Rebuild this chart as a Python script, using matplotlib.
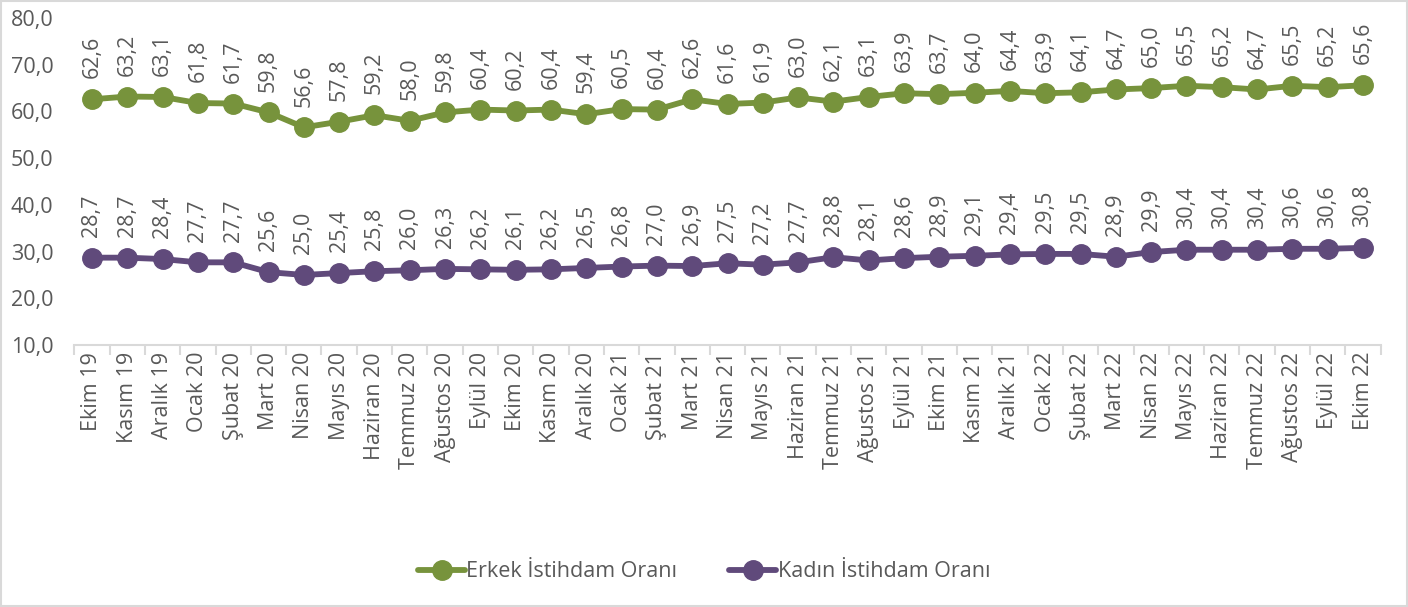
import matplotlib
matplotlib.use("Agg")
import matplotlib.pyplot as plt
from matplotlib.patches import Rectangle
from matplotlib.ticker import FixedLocator

months = ["Ekim 19", "Kasım 19", "Aralık 19", "Ocak 20", "Şubat 20", "Mart 20", "Nisan 20",
          "Mayıs 20", "Haziran 20", "Temmuz 20", "Ağustos 20", "Eylül 20", "Ekim 20", "Kasım 20",
          "Aralık 20", "Ocak 21", "Şubat 21", "Mart 21", "Nisan 21", "Mayıs 21", "Haziran 21",
          "Temmuz 21", "Ağustos 21", "Eylül 21", "Ekim 21", "Kasım 21", "Aralık 21", "Ocak 22",
          "Şubat 22", "Mart 22", "Nisan 22", "Mayıs 22", "Haziran 22", "Temmuz 22", "Ağustos 22",
          "Eylül 22", "Ekim 22"]
erkek = [62.6, 63.2, 63.1, 61.8, 61.7, 59.8, 56.6, 57.8, 59.2, 58.0, 59.8, 60.4, 60.2, 60.4,
         59.4, 60.5, 60.4, 62.6, 61.6, 61.9, 63.0, 62.1, 63.1, 63.9, 63.7, 64.0, 64.4, 63.9,
         64.1, 64.7, 65.0, 65.5, 65.2, 64.7, 65.5, 65.2, 65.6]
kadin = [28.7, 28.7, 28.4, 27.7, 27.7, 25.6, 25.0, 25.4, 25.8, 26.0, 26.3, 26.2, 26.1, 26.2,
         26.5, 26.8, 27.0, 26.9, 27.5, 27.2, 27.7, 28.8, 28.1, 28.6, 28.9, 29.1, 29.4, 29.5,
         29.5, 28.9, 29.9, 30.4, 30.4, 30.4, 30.6, 30.6, 30.8]
series_names = ["Erkek İstihdam Oranı", "Kadın İstihdam Oranı"]
yticks = [10, 20, 30, 40, 50, 60, 70, 80]

plt.rcParams['font.family'] = ['Open Sans', 'DejaVu Sans']
TXT = '#595959'
GRID = '#D9D9D9'
FS = 15.5

fig = plt.figure(figsize=(14.08, 6.07), dpi=100)
ax = fig.add_axes([0.0528, 0.4316, 0.9278, 0.5387])
fig.patches.append(Rectangle((0.001, 0.001), 0.998, 0.997, transform=fig.transFigure,
                             fill=False, edgecolor=GRID, linewidth=1.5))

x = list(range(len(months)))
colors = ['#77933C', '#604A7B']
for vals, name, c in zip([erkek, kadin], series_names, colors):
    ax.plot(x, vals, color=c, linewidth=4.2, marker='o', markersize=14, label=name,
            solid_capstyle='round')
    for xi, v in zip(x, vals):
        ax.annotate(f"{v:.1f}".replace('.', ','), (xi, v), xytext=(0, 15),
                    textcoords='offset points', rotation=90, ha='center', va='bottom',
                    fontsize=FS, color=TXT)

ax.set_xlim(-0.5, len(months) - 0.5)
ax.set_ylim(10, 80)
ax.set_yticks(yticks)
ax.set_yticklabels([f"{t:.1f}".replace('.', ',') for t in yticks], fontsize=FS, color=TXT)
ax.set_xticks(x)
ax.set_xticklabels(months, rotation=90, fontsize=FS, color=TXT)
ax.xaxis.set_minor_locator(FixedLocator([i - 0.5 for i in range(len(months) + 1)]))
ax.tick_params(axis='x', which='major', length=0, pad=5)
ax.tick_params(axis='x', which='minor', length=7, color=GRID, width=1.5)
ax.tick_params(axis='y', length=0, pad=15)
for s in ['top', 'right', 'left']:
    ax.spines[s].set_visible(False)
ax.spines['bottom'].set_color(GRID)
ax.spines['bottom'].set_linewidth(1.5)

fig.legend(loc='center', bbox_to_anchor=(0.5, 0.058), ncol=2, frameon=False,
           fontsize=FS, labelcolor=TXT, handlelength=2.2, columnspacing=2.4, handletextpad=0.05)

fig.savefig('out.png', dpi=100)
